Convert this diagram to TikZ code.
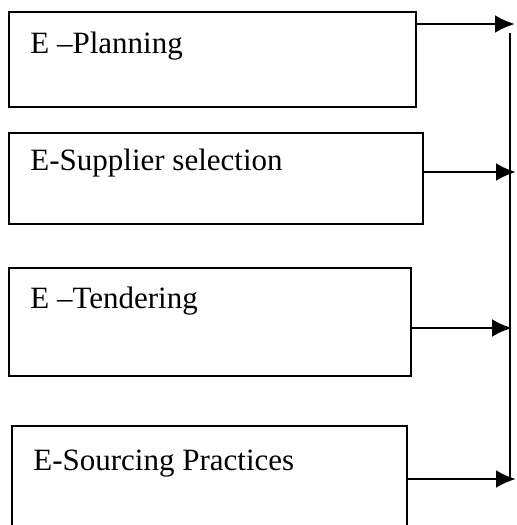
\documentclass[tikz,border=0pt]{standalone}
\usepackage{fontspec}
\setmainfont{Liberation Serif}
\usetikzlibrary{arrows.meta,calc}

\begin{document}
\begin{tikzpicture}[x=0.5pt,y=-0.5pt]
    % --- styles ---
    \tikzset{stage/.style={draw,line width=1.4pt,inner sep=0pt,outer sep=0pt,anchor=north west},
             lbl/.style={anchor=base west,inner sep=0pt,font=\fontsize{15.5}{18}\selectfont},
             feed/.style={line width=1.4pt,-{Latex[length=10pt,width=9pt]}}}

    % page frame (box 4 runs off the bottom)
    \path[use as bounding box,clip] (0,0) rectangle (517,525);

    % stage boxes
    \node[stage,minimum width=203.5pt,minimum height=47.5pt] (plan) at (9,12) {};
    \node[stage,minimum width=207pt,minimum height=45.5pt]   (supp) at (9,133) {};
    \node[stage,minimum width=201pt,minimum height=54pt]     (tend) at (9,268) {};
    \node[stage,minimum width=197.5pt,minimum height=60pt]   (srce) at (12,426) {};

    % box titles (top left)
    \node[lbl] (plantxt) at ([shift={(21,41)}]plan.north west) {E \textendash Planning};
    \node[lbl] (supptxt) at ([shift={(21,37)}]supp.north west) {E-Supplier selection};
    \node[lbl] (tendtxt) at ([shift={(21,40)}]tend.north west) {E \textendash Tendering};
    \node[lbl] (srcetxt) at ([shift={(21,44)}]srce.north west) {E-Sourcing Practices};

    % right-hand bus and arrow ends
    \coordinate (bustop) at (510,33);
    \coordinate (busbot) at (510,480);
    \coordinate (in1) at (515,24);
    \coordinate (in2) at (516,172);
    \coordinate (in3) at (512,328);
    \coordinate (in4) at (516,479);
    \draw[line width=1.4pt] (bustop) -- (busbot);

    % arrows from each box
    \draw[feed] (plan.east |- in1) -- (in1);
    \draw[feed] (supp.east |- in2) -- (in2);
    \draw[feed] (tend.east |- in3) -- (in3);
    \draw[feed] (srce.east |- in4) -- (in4);
\end{tikzpicture}
\end{document}
